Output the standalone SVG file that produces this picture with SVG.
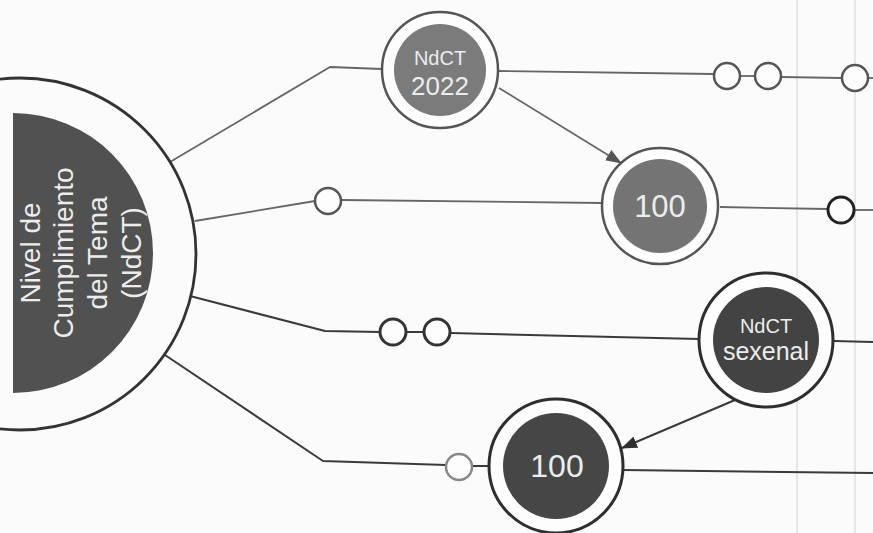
<svg xmlns="http://www.w3.org/2000/svg" width="873" height="533" viewBox="0 0 873 533">
<defs>
<style>
.bg{fill:#fbfbfb}
.page{stroke:#d2d2d2;stroke-width:1;fill:none}
.ln{fill:none;stroke:#3a3a3a;stroke-width:2;stroke-linejoin:round}
.lnl{fill:none;stroke:#666;stroke-width:1.8;stroke-linejoin:round}
.ring{fill:#fdfdfd;stroke:#555;stroke-width:2.5}
.ringd{fill:#fdfdfd;stroke:#2e2e2e;stroke-width:3}
.dot{fill:#fdfdfd;stroke:#555;stroke-width:2.5}
.t{font-family:"Liberation Sans",Arial,sans-serif;fill:#ececec;text-anchor:middle}
</style>
<marker id="ah" markerUnits="userSpaceOnUse" markerWidth="16" markerHeight="12" refX="15" refY="6" orient="auto">
<path d="M0,0 L16,6 L0,12 Z" fill="#555"/>
</marker>
<marker id="ahd" markerUnits="userSpaceOnUse" markerWidth="16" markerHeight="12" refX="15" refY="6" orient="auto">
<path d="M0,0 L16,6 L0,12 Z" fill="#2e2e2e"/>
</marker>
</defs>
<rect class="bg" x="0" y="0" width="873" height="533"/>
<g id="page-lines">
<line class="page" x1="797" y1="0" x2="797" y2="533"/>
<line class="page" x1="855" y1="0" x2="855" y2="533"/>
</g>
<g id="connectors">
<polyline class="lnl" points="170,162 330,67 382,69"/>
<polyline class="lnl" points="499,71 713,74"/>
<line class="lnl" x1="740" y1="76" x2="755" y2="76"/>
<polyline class="lnl" points="781,77 842,78"/>
<line class="lnl" x1="868" y1="78" x2="873" y2="78"/>
<line class="lnl" x1="499" y1="88" x2="621" y2="163" marker-end="url(#ah)"/>
<polyline class="lnl" points="195,221 315,201"/>
<polyline class="lnl" points="342,200 602,203"/>
<polyline class="lnl" points="720,207 828,209"/>
<line class="lnl" x1="854" y1="210" x2="873" y2="210"/>
<polyline class="ln" points="190,296 325,331 380,332"/>
<line class="ln" x1="407" y1="332" x2="424" y2="332"/>
<polyline class="ln" points="451,333 699,339"/>
<line class="ln" x1="834" y1="341" x2="873" y2="342"/>
<line class="ln" x1="735" y1="400" x2="622" y2="448" marker-end="url(#ahd)"/>
<polyline class="ln" points="165,355 323,461 446,465"/>
<line class="ln" x1="472" y1="466" x2="489" y2="466"/>
<line class="ln" x1="623" y1="470" x2="873" y2="473"/>
</g>
<g id="main">
<circle cx="20" cy="254" r="176" fill="none" stroke="#333" stroke-width="2.8"/>
<path d="M13,113 A140,140 0 0 1 13,393 Z" fill="#515151"/>
<g class="t" font-size="28">
<text transform="translate(40,253) rotate(-90)">Nivel de</text>
<text transform="translate(73,253) rotate(-90)">Cumplimiento</text>
<text transform="translate(107,253) rotate(-90)">del Tema</text>
<text transform="translate(141,253) rotate(-90)">(NdCT)</text>
</g>
</g>
<g id="node-ndct2022">
<circle class="ring" cx="440" cy="70" r="58"/>
<circle cx="440" cy="70" r="46" fill="#7b7b7b"/>
<text class="t" x="440" y="65" font-size="20">NdCT</text>
<text class="t" x="440" y="95" font-size="26">2022</text>
</g>
<g id="node-100-top">
<circle class="ring" cx="660" cy="206" r="58"/>
<circle cx="660" cy="206" r="47" fill="#747474"/>
<text class="t" x="660" y="217" font-size="31">100</text>
</g>
<g id="node-sexenal">
<circle class="ringd" cx="766" cy="340" r="67"/>
<circle cx="766" cy="340" r="53" fill="#434343"/>
<text class="t" x="766" y="333" font-size="20">NdCT</text>
<text class="t" x="766" y="360" font-size="25">sexenal</text>
</g>
<g id="node-100-bottom">
<circle class="ringd" cx="556" cy="466" r="67"/>
<circle cx="556" cy="466" r="53" fill="#464646"/>
<text class="t" x="557" y="477" font-size="32">100</text>
</g>
<g id="small-circles">
<circle id="s1" class="dot" cx="727" cy="76" r="13"/>
<circle id="s2" class="dot" cx="768" cy="76" r="13"/>
<circle id="s3" class="dot" cx="855" cy="78" r="13"/>
<circle id="s4" class="dot" cx="328" cy="201" r="13"/>
<circle id="s5" class="dot" cx="841" cy="210" r="13" style="stroke:#222;stroke-width:3"/>
<circle id="s6" class="dot" cx="393" cy="332" r="13" style="stroke:#333;stroke-width:3"/>
<circle id="s7" class="dot" cx="437" cy="332" r="13" style="stroke:#333;stroke-width:3"/>
<circle id="s8" class="dot" cx="459" cy="467" r="13" style="stroke:#888"/>
</g>
</svg>
